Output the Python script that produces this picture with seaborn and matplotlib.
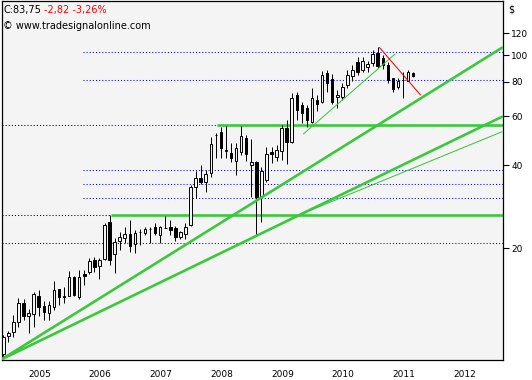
import pandas as pd
import matplotlib
matplotlib.use('Agg')
import matplotlib.pyplot as plt
from matplotlib.transforms import ScaledTranslation
import seaborn as sns

# monthly bars, first bar Aug 2004
first_month = '2004-08'
opens = [8.30, 9.60, 9.93, 10.85, 12.73, 11.34, 11.55, 13.45, 12.33, 11.70,
         12.29, 14.21, 13.39, 13.48, 15.75, 13.34, 16.11, 16.46, 18.12, 17.24,
         18.26, 24.84, 19.05, 21.17, 21.88, 22.57, 20.76, 22.89, 22.80, 23.52,
         23.83, 22.40, 23.77, 23.93, 23.63, 22.03, 22.47, 24.28, 33.24, 35.83,
         34.83, 37.35, 51.40, 52.56, 44.80, 44.34, 41.49, 44.71, 49.99, 40.03,
         41.15, 30.90, 35.33, 44.50, 42.90, 44.95, 54.33, 48.60, 71.70, 65.97,
         64.18, 57.40, 68.80, 67.74, 85.89, 81.70, 70.30, 70.60, 77.90, 84.30,
         94.60, 88.40, 90.50, 93.35, 102.0, 97.30, 92.30, 82.39, 76.40, 81.50,
         80.70, 85.90]
highs = [9.72, 10.05, 11.48, 13.19, 13.06, 12.03, 13.92, 14.19, 12.87, 12.90,
         15.17, 14.25, 14.43, 16.62, 15.88, 16.76, 16.70, 18.42, 18.63, 18.52,
         24.63, 26.35, 21.80, 23.00, 23.95, 25.32, 23.30, 23.52, 23.79, 23.98,
         24.79, 24.03, 26.12, 25.32, 24.08, 23.16, 24.63, 33.89, 38.17, 40.03,
         38.40, 50.41, 52.12, 55.06, 55.40, 48.20, 48.19, 55.40, 51.40, 49.60,
         41.50, 39.47, 46.39, 46.39, 47.30, 55.90, 58.20, 73.10, 73.80, 67.74,
         65.97, 75.81, 71.70, 87.50, 88.40, 85.20, 74.80, 79.40, 88.40, 92.30,
         98.60, 98.00, 94.90, 104.6, 106.5, 99.70, 94.60, 82.80, 82.80, 87.00,
         88.40, 86.60]
lows = [8.10, 9.17, 9.56, 10.42, 11.01, 9.91, 10.39, 11.38, 11.01, 11.05,
        12.01, 12.47, 12.73, 13.39, 13.39, 13.16, 14.73, 16.15, 16.35, 15.45,
        18.10, 17.40, 16.28, 19.72, 20.85, 19.40, 19.30, 20.57, 22.34, 20.82,
        22.34, 20.93, 23.59, 22.43, 21.31, 21.67, 21.67, 24.08, 30.33, 34.17,
        32.05, 36.13, 42.32, 42.32, 42.40, 41.15, 36.83, 43.50, 41.50, 30.70,
        22.15, 24.97, 34.75, 40.60, 41.40, 41.70, 40.40, 48.05, 58.20, 56.64,
        54.80, 56.64, 62.80, 66.90, 73.70, 66.50, 64.18, 68.80, 76.00, 80.70,
        84.70, 86.50, 87.00, 91.40, 89.55, 89.00, 79.20, 73.70, 75.20, 69.75,
        80.50, 83.20]
closes = [9.56, 9.88, 10.85, 12.68, 11.34, 11.64, 13.67, 12.29, 11.80, 12.45,
          14.08, 13.28, 13.30, 15.71, 13.53, 15.75, 15.88, 17.96, 17.07, 18.12,
          24.24, 18.12, 21.06, 22.03, 22.49, 20.34, 22.66, 22.85, 23.49, 23.48,
          22.77, 23.85, 23.73, 23.30, 21.97, 22.85, 23.88, 33.24, 35.83, 34.75,
          37.13, 47.67, 51.20, 46.00, 45.30, 42.32, 46.00, 50.96, 43.76, 41.15,
          30.73, 38.08, 43.86, 43.86, 45.30, 54.33, 48.60, 69.75, 63.30, 61.87,
          58.20, 69.75, 66.36, 84.70, 79.03, 67.74, 71.70, 76.40, 84.70, 88.20,
          87.00, 95.20, 92.80, 100.9, 91.40, 92.30, 81.20, 75.20, 80.70, 81.10,
          86.57, 83.75]

years = [2005, 2006, 2007, 2008, 2009, 2010, 2011, 2012]
price_ticks = [20, 40, 60, 80, 100, 120]

# price levels
blue_levels = [102.3, 81.0, 38.3, 34.1, 30.3, 20.85]
black_levels = [55.7, 20.85]
support_level = 26.3
resist_level = 55.7

# trend lines (bar index, price)
up_x, up_y = [-0.3, 98.56], [7.94, 106.3]
low_x, low_y = [-0.3, 98.56], [7.94, 59.8]
thin_x, thin_y = [56.66, 98.56], [25.6, 52.8]
sub_x, sub_y = [59.29, 77.4], [51.8, 100.8]
red_x, red_y = [74.3, 82.45], [106.6, 71.7]

df = pd.DataFrame({'open': opens, 'high': highs, 'low': lows, 'close': closes})
df['i'] = range(len(df))
months = pd.period_range(first_month, periods=100, freq='M')

sns.set_style('white')
plt.rcParams['font.family'] = ['DejaVu Sans']

bg = '#f4f4f4'
green = '#3cc83c'
fig = plt.figure(figsize=(5.32, 3.8), dpi=100)
ax = fig.add_axes([2/532, 20/380, 501/532, 359/380])
ax.set_facecolor(bg)
ax.set_yscale('log')
xmin, xmax = -0.26, 98.75
ax.set_xlim(xmin, xmax)
ax.set_ylim(7.89, 156.8)

dot = (0, (1, 2))
edge = 15.75
ax.hlines(blue_levels, edge, xmax, colors='#0000ff', linestyles=dot, lw=0.75, zorder=1)
ax.hlines(resist_level, edge, 42.17, colors='#0000ff', linestyles=dot, lw=0.75, zorder=1)
ax.hlines(black_levels, xmin, edge, colors='black', linestyles=dot, lw=0.75, zorder=1)
ax.hlines(support_level, xmin, 21.2, colors='black', linestyles=dot, lw=0.75, zorder=1)

# green levels
ax.hlines(support_level, 21.2, xmax, colors=green, lw=1.9, zorder=2)
ax.hlines(resist_level, 42.17, xmax, colors=green, lw=1.9, zorder=2)

# candles
up = df['close'] >= df['open']
body_lo = df[['open', 'close']].min(axis=1)
body_h = (df['close'] - df['open']).abs().clip(lower=0.01)
ax.vlines(df['i'], df['low'], df['high'], color='black', lw=0.7, zorder=3)
ax.bar(df['i'], body_h, bottom=body_lo, width=0.5,
       color=[bg if u else 'black' for u in up], edgecolor='black', linewidth=0.7, zorder=4)

# trend lines
sns.lineplot(x=up_x, y=up_y, ax=ax, color=green, linewidth=1.9, zorder=5)
sns.lineplot(x=low_x, y=low_y, ax=ax, color=green, linewidth=1.9, zorder=5)
sns.lineplot(x=thin_x, y=thin_y, ax=ax, color=green, linewidth=0.75, zorder=5)
sns.lineplot(x=sub_x, y=sub_y, ax=ax, color=green, linewidth=0.75, zorder=5)
sns.lineplot(x=red_x, y=red_y, ax=ax, color='#ff0000', linewidth=0.75, zorder=5)

# axes
for s in ax.spines.values():
    s.set_color('black')
    s.set_linewidth(0.9)
ax.yaxis.tick_right()
ax.set_yticks(price_ticks)
ax.set_yticklabels([str(v) for v in price_ticks])
ax.minorticks_off()
jan = [i - 0.5 for i, m in enumerate(months) if m.month == 1 and m.year in years]
ax.set_xticks(jan)
ax.set_xticklabels([str(y) for y in years], ha='left')
ax.tick_params(axis='both', direction='out', length=4, width=0.8, colors='black', labelsize=6.5)
ax.tick_params(axis='y', pad=2)
ax.tick_params(axis='x', pad=3)
for lab in ax.get_xticklabels():
    lab.set_transform(lab.get_transform() + ScaledTranslation(2/100, 0, fig.dpi_scale_trans))
ax.set_xlabel('')
ax.set_ylabel('')

fig.text(3/532, 1 - 9.5/380, 'C:83,75', fontsize=7, color='black', va='center', ha='left')
fig.text(44/532, 1 - 9.5/380, '-2,82 -3,26%', fontsize=7, color='#ff0000', va='center', ha='left')
fig.text(3/532, 1 - 26/380, '\u00a9 www.tradesignalonline.com', fontsize=7, color='black', va='center', ha='left')
fig.text(511.5/532, 1 - 10/380, '$', fontsize=7, color='black', va='center', ha='center')

fig.savefig('out.png', dpi=100, facecolor='white')
